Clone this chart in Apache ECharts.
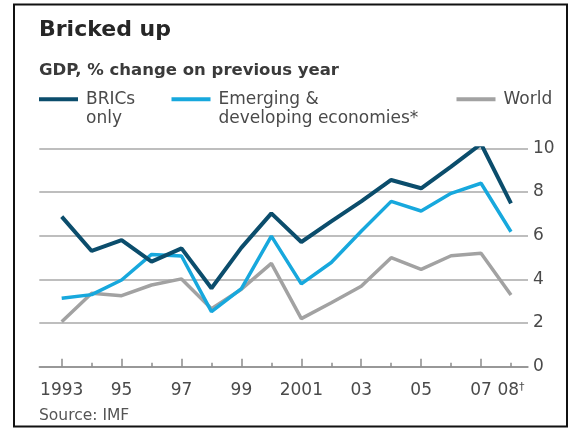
<!DOCTYPE html>
<html><head><meta charset="utf-8">
<script src="https://cdn.jsdelivr.net/npm/echarts@6/dist/echarts.min.js"></script>
<style>html,body{margin:0;padding:0;background:#fff}#c{width:571px;height:428px}</style>
</head><body><div id="c"></div>
<script>
const years = [1993,1994,1995,1996,1997,1998,1999,2000,2001,2002,2003,2004,2005,2006,2007,2008];
const brics = [6.87,5.30,5.80,4.81,5.42,3.59,5.45,7.02,5.71,6.65,7.57,8.55,8.17,9.16,10.2,7.48];
const emerging = [3.13,3.30,3.97,5.14,5.07,2.52,3.58,5.98,3.79,4.77,6.20,7.57,7.13,7.94,8.40,6.18];
const world = [2.06,3.36,3.25,3.74,4.02,2.65,3.55,4.73,2.20,2.93,3.68,4.99,4.46,5.08,5.19,3.28];
const seriesNames = ['BRICs\nonly','Emerging &\ndeveloping economies*','World'];
const yTicks = [0,2,4,6,8,10];
const xLabelYears = [1993,1995,1997,1999,2001,2003,2005,2007,2008];
const xLabelText = ['1993','95','97','99','2001','03','05','07','{n|08}{s|†}'];
const longTickYears = [1993,1995,1997,1999,2001,2003,2005,2007];
const shortTickYears = [1994,1996,1998,2000,2002,2004,2006,2008];

const FONT = 'DejaVu Sans';
const colors = ['#0b4d6c','#17a8dd','#a2a2a2'];
const chart = echarts.init(document.getElementById('c'), null, {renderer:'canvas'});
const toPairs = arr => years.map((y,i)=>[y, arr[i]]);
const legendText = {fontFamily: FONT, fontSize: 17, color: '#4a4a4a', lineHeight: 19.5, padding: [0,0,0,3]};
function legendAt(name, left, twoLine){
  return {
    data: [name], left: left, top: twoLine ? 70 : 89.5, padding: 0,
    icon: 'rect', itemWidth: 39, itemHeight: 4, selectedMode: false,
    formatter: n => twoLine ? '\n' + n : n,
    textStyle: legendText
  };
}
chart.setOption({
  animation: false,
  backgroundColor: '#fff',
  title: [
    {text: 'Bricked up', left: 39, top: 19, padding: 0,
     textStyle: {fontFamily: FONT, fontSize: 22, fontWeight: 'bold', color: '#262626'}},
    {text: 'GDP, % change on previous year', left: 39, top: 62, padding: 0,
     textStyle: {fontFamily: FONT, fontSize: 16.5, fontWeight: 'bold', color: '#3a3a3a'}},
    {text: 'Source: IMF', left: 39, top: 408, padding: 0,
     textStyle: {fontFamily: FONT, fontSize: 15.5, fontWeight: 'normal', color: '#555'}}
  ],
  legend: [
    legendAt(seriesNames[0], 39, true),
    legendAt(seriesNames[1], 171.5, true),
    legendAt(seriesNames[2], 456.5, false)
  ],
  grid: {left: 39.3, right: 43, top: 148.3, bottom: 61.3, containLabel: false},
  xAxis: [
    {type: 'value', min: 1992.252, max: 2008.568, position: 'bottom',
     splitLine: {show: false},
     axisLine: {show: true, onZero: false, lineStyle: {color: '#8c8c8c', width: 1.5}},
     axisTick: {show: true, inside: true, length: 8, customValues: longTickYears, lineStyle: {color: '#8c8c8c', width: 1.5}},
     axisLabel: {show: true, customValues: xLabelYears, margin: 15,
       fontFamily: FONT, fontSize: 17, color: '#4a4a4a', lineHeight: 17,
       formatter: v => xLabelText[xLabelYears.indexOf(Math.round(v))] || '',
       rich: {
         n: {fontFamily: FONT, fontSize: 17, color: '#4a4a4a', lineHeight: 17},
         s: {fontFamily: FONT, fontSize: 11, color: '#4a4a4a', lineHeight: 17, verticalAlign: 'top'}}}},
    {type: 'value', min: 1992.252, max: 2008.568, position: 'bottom',
     splitLine: {show: false},
     axisLine: {show: false},
     axisTick: {show: true, inside: true, length: 4, customValues: shortTickYears, lineStyle: {color: '#8c8c8c', width: 1.5}},
     axisLabel: {show: false}}
  ],
  yAxis: {type: 'value', position: 'right', min: 0, max: 10, interval: 2,
    axisLine: {show: false}, axisTick: {show: false},
    splitLine: {show: true, lineStyle: {color: '#a8a8a8', width: 1.5}},
    axisLabel: {margin: 5, fontFamily: FONT, fontSize: 17, color: '#4a4a4a',
      customValues: yTicks}},
  series: [
    {name: seriesNames[2], type: 'line', data: toPairs(world), showSymbol: false, z: 2,
     lineStyle: {color: colors[2], width: 3.5}, itemStyle: {color: colors[2]}},
    {name: seriesNames[1], type: 'line', data: toPairs(emerging), showSymbol: false, z: 3,
     lineStyle: {color: colors[1], width: 3.5}, itemStyle: {color: colors[1]}},
    {name: seriesNames[0], type: 'line', data: toPairs(brics), showSymbol: false, z: 4,
     lineStyle: {color: colors[0], width: 4}, itemStyle: {color: colors[0]}}
  ],
  graphic: [
    {type: 'rect', shape: {x: 14, y: 4.5, width: 553, height: 422}, silent: true,
     style: {fill: 'none', stroke: '#111', lineWidth: 2}, z: 100}
  ]
});
</script></body></html>
